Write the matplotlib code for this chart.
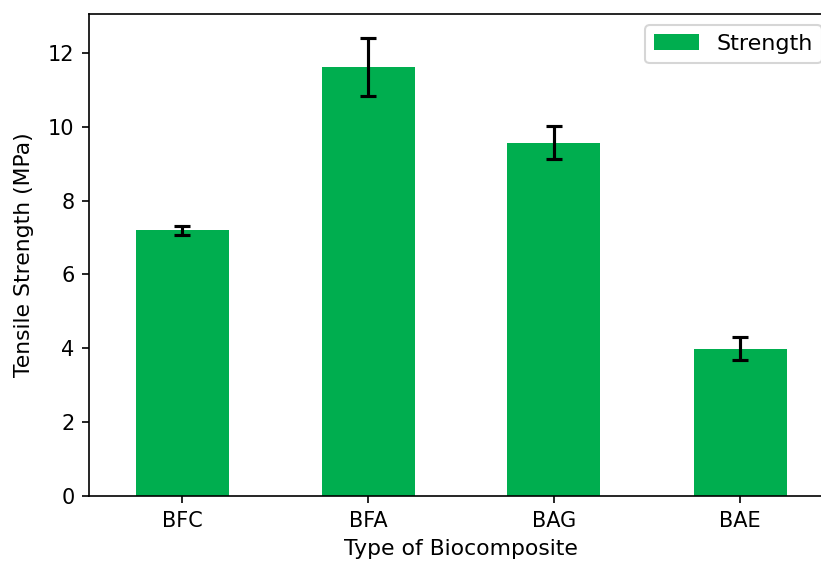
import matplotlib.pyplot as plt

# Tensile strength of each biocomposite with standard deviation
composites = ["BFC", "BFA", "BAG", "BAE"]
strength = [7.19, 11.62, 9.57, 3.99]
strength_sd = [0.11, 0.78, 0.44, 0.31]

fig = plt.figure(figsize=(821 / 150, 564 / 150), dpi=150)
# axes run slightly past the right edge of the canvas
ax = fig.add_axes([89 / 821, 68 / 564, 744 / 821, 482 / 564])

x = range(len(composites))
ax.bar(x, strength, width=0.5, color="#00ae4f", label="Strength",
       yerr=strength_sd, capsize=4, error_kw={"elinewidth": 1.5, "capthick": 1.5})

ax.set_xticks(list(x))
ax.set_xticklabels(composites)
ax.set_xlim(-0.5, 3.5)
ax.set_ylim(0, 13.05)
ax.set_xlabel("Type of Biocomposite", fontsize=10.5)
ax.set_ylabel("Tensile Strength (MPa)", fontsize=10.5, labelpad=6.5)
ax.legend(loc="upper right", fontsize=10.7)

fig.savefig("out.png", dpi=150)
